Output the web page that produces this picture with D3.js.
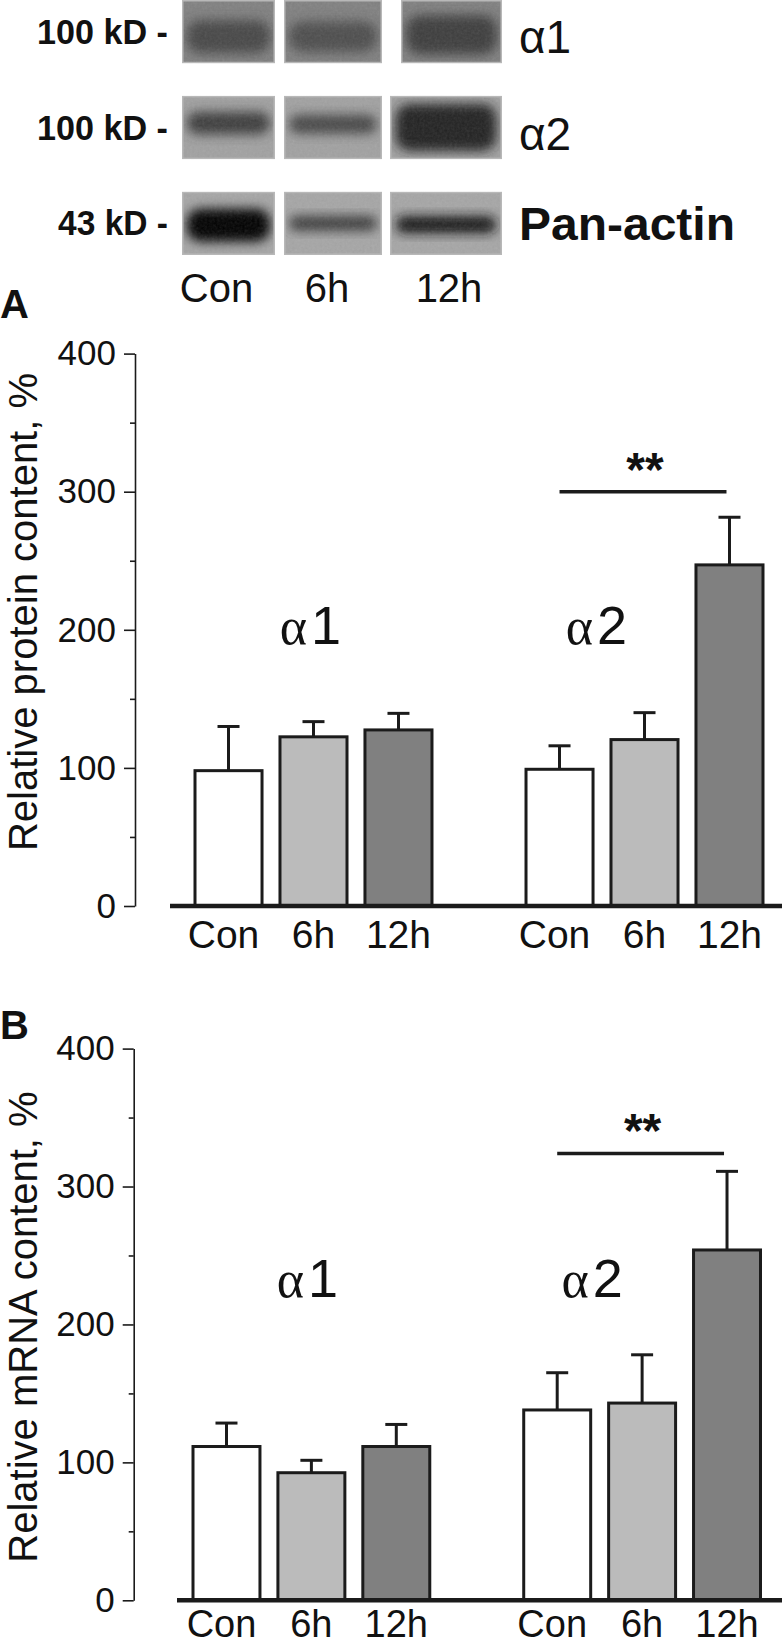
<!DOCTYPE html>
<html>
<head>
<meta charset="utf-8">
<script src="https://cdn.jsdelivr.net/npm/d3@7"></script>
<style>
  html, body { margin: 0; padding: 0; background: #fff; }
  svg { display: block; }
  text { font-family: "Liberation Sans", Arial, Helvetica, sans-serif; fill: #111; }
</style>
</head>
<body>
<svg id="fig" width="782" height="1645"></svg>
<script>
// ---------------- DATA ----------------
const conditions = ["Con", "6h", "12h"];
const isoforms = ["α1", "α2"];
const yTicks = [0, 100, 200, 300, 400];
const yMinorTicks = [50, 150, 250, 350];

// Panel A: relative protein content, %
const proteinAlpha1 = [98, 122.5, 127.5];
const proteinAlpha1Err = [32, 11, 12];
const proteinAlpha2 = [99, 120.5, 247];
const proteinAlpha2Err = [17, 19.5, 34.5];
const proteinSigLevel = 300;

// Panel B: relative mRNA content, %
const mrnaAlpha1 = [111.5, 92.5, 111.5];
const mrnaAlpha1Err = [17, 9, 16];
const mrnaAlpha2 = [138, 143, 254];
const mrnaAlpha2Err = [27, 35, 57];
const mrnaSigLevel = 324;

// Western blot (band darkness 0..1, membrane darkness 0..1)
const blotRows = ["α1", "α2", "Pan-actin"];
const blotMarkers = ["100 kD -", "100 kD -", "43 kD -"];
const membraneDarkness = [0.50, 0.37, 0.35];
const bandDarkness = [[0.72, 0.70, 0.76], [0.76, 0.72, 0.86], [0.98, 0.76, 0.93]];
const bandThickness = [[0.52, 0.48, 0.62], [0.36, 0.30, 0.74], [0.52, 0.24, 0.27]];
const bandCenter = [[0.58, 0.58, 0.55], [0.43, 0.45, 0.5], [0.53, 0.5, 0.52]];

// ---------------- DRAW ----------------
const svg = d3.select("#fig");
const ink = "#1b1b1b";
const fills = ["#ffffff", "#bbbbbb", "#808080"];
const sans = '"Liberation Sans", Arial, sans-serif';
const serif = '"Liberation Serif", "Times New Roman", serif';

const defs = svg.append("defs");
defs.append("filter").attr("id", "blur").attr("x", "-50%").attr("y", "-50%").attr("width", "200%").attr("height", "200%")
  .append("feGaussianBlur").attr("stdDeviation", 5.5);
const nf = defs.append("filter").attr("id", "noise").attr("x", 0).attr("y", 0).attr("width", "100%").attr("height", "100%");
nf.append("feTurbulence").attr("type", "fractalNoise").attr("baseFrequency", 0.4).attr("numOctaves", 2).attr("seed", 7);
nf.append("feColorMatrix").attr("type", "saturate").attr("values", 0);

// ---- Blot ----
// lane geometry (layout): left edge and width per lane
const laneLeft = d3.scaleOrdinal().domain(conditions).range([182, 284, 390]);
const laneWidth = d3.scaleOrdinal().domain(conditions).range([93, 98, 112]);
const rowY = d3.scaleBand().domain(blotRows).range([0, 255]).paddingInner(0.34);
const gray = d => d3.interpolateRgb("#ffffff", "#000000")(d);

blotRows.forEach((row, ri) => {
  const y0 = rowY(row), h = rowY.bandwidth();
  conditions.forEach((c, ci) => {
    const x0 = laneLeft(c) + (ri === 0 && ci === 2 ? 11 : 0);
    const w = laneWidth(c) - (ri === 0 && ci === 2 ? 11 : 0);
    const id = `clip-${ri}-${ci}`;
    defs.append("clipPath").attr("id", id).append("rect").attr("x", x0).attr("y", y0).attr("width", w).attr("height", h);
    const lane = svg.append("g").attr("clip-path", `url(#${id})`);
    lane.append("rect").attr("x", x0).attr("y", y0).attr("width", w).attr("height", h)
      .attr("fill", gray(membraneDarkness[ri]));
    const bh = bandThickness[ri][ci] * h;
    const cy = y0 + bandCenter[ri][ci] * h;
    lane.append("rect")
      .attr("x", x0 + w * 0.05).attr("y", cy - bh / 2)
      .attr("width", w * 0.9).attr("height", bh)
      .attr("rx", Math.min(bh / 2, 14))
      .attr("fill", gray(bandDarkness[ri][ci]))
      .attr("filter", "url(#blur)");
    lane.append("rect").attr("x", x0).attr("y", y0).attr("width", w).attr("height", h)
      .attr("filter", "url(#noise)").attr("opacity", 0.14);
    lane.append("rect").attr("x", x0 + 0.75).attr("y", y0 + 0.75).attr("width", w - 1.5).attr("height", h - 1.5)
      .attr("fill", "none").attr("stroke", "#b8b8b8").attr("stroke-width", 1.5);
  });
  const cyRow = y0 + h / 2;
  svg.append("text").attr("x", 168).attr("y", cyRow + 12)
    .attr("text-anchor", "end").attr("font-weight", "bold").attr("font-size", 35)
    .attr("textLength", ri === 2 ? 110 : 131).attr("lengthAdjust", "spacingAndGlyphs")
    .text(blotMarkers[ri]);
});
// right-side blot labels
svg.append("text").attr("x", 519).attr("y", rowY("α1") + 53).attr("font-family", serif).attr("font-size", 46).text("α1");
svg.append("text").attr("x", 519).attr("y", rowY("α2") + 54).attr("font-family", serif).attr("font-size", 46).text("α2");
svg.append("text").attr("x", 519).attr("y", rowY("Pan-actin") + rowY.bandwidth() / 2 + 17)
  .attr("font-weight", "bold").attr("font-size", 46)
  .attr("textLength", 216).attr("lengthAdjust", "spacingAndGlyphs").text("Pan-actin");
// lane labels
svg.selectAll(".laneLbl").data(conditions).enter().append("text")
  .attr("x", (d, i) => laneLeft(d) + laneWidth(d) / 2 - [12, 6, -3][i])
  .attr("y", 302).attr("text-anchor", "middle").attr("font-size", 40).text(d => d);

// ---- Bar panels ----
function panel(cfg) {
  const g = svg.append("g");
  const y = d3.scaleLinear().domain([0, 400]).range([cfg.y0, cfg.y400]);
  const gx = d3.scaleBand().domain(isoforms).range(cfg.xRange).paddingInner(0.275);
  const bx = d3.scaleBand().domain(conditions).range([0, gx.bandwidth()]).paddingInner(0.176);

  // y axis
  const ax = g.append("g").attr("transform", `translate(${cfg.axisX},0)`)
    .call(d3.axisLeft(y).tickValues(yTicks).tickSize(11).tickSizeOuter(0).tickPadding(8));
  ax.select(".domain").attr("stroke", ink).attr("stroke-width", 1.6);
  ax.selectAll(".tick line").attr("stroke", ink).attr("stroke-width", 1.6);
  ax.selectAll(".tick text").attr("font-size", 35).attr("font-family", sans).attr("fill", "#111");
  const mn = g.append("g").attr("transform", `translate(${cfg.axisX},0)`)
    .call(d3.axisLeft(y).tickValues(yMinorTicks).tickSize(5).tickFormat(""));
  mn.select(".domain").remove();
  mn.selectAll(".tick line").attr("stroke", ink).attr("stroke-width", 1.6);

  // y label
  g.append("text")
    .attr("transform", `translate(${cfg.yLabelX},${cfg.yLabelY}) rotate(-90)`)
    .attr("text-anchor", "middle").attr("font-size", 40).text(cfg.yLabel);

  // panel letter
  g.append("text").attr("x", 0).attr("y", cfg.letterY).attr("font-weight", "bold").attr("font-size", 40).text(cfg.letter);

  // bars
  cfg.series.forEach((s, gi) => {
    const iso = isoforms[gi];
    const gg = g.append("g").attr("transform", `translate(${gx(iso)},0)`);
    conditions.forEach((c, ci) => {
      const v = s.values[ci], e = s.errors[ci];
      const cx = bx(c) + bx.bandwidth() / 2;
      gg.append("line").attr("x1", cx).attr("x2", cx).attr("y1", y(v)).attr("y2", y(v + e))
        .attr("stroke", ink).attr("stroke-width", 3);
      gg.append("line").attr("x1", cx - 11).attr("x2", cx + 11).attr("y1", y(v + e)).attr("y2", y(v + e))
        .attr("stroke", ink).attr("stroke-width", 3);
      gg.append("rect").attr("x", bx(c) + 1.5).attr("y", y(v))
        .attr("width", bx.bandwidth() - 3).attr("height", y(0) - y(v))
        .attr("fill", fills[ci]).attr("stroke", ink).attr("stroke-width", 3);
      gg.append("text").attr("x", cx - [5, 0, 0][ci]).attr("y", cfg.y0 + cfg.labelDy)
        .attr("text-anchor", "middle").attr("font-size", cfg.labelSize).text(c);
    });
    const lbl = gg.append("text").attr("x", s.labelX).attr("y", y(s.labelLevel)).attr("text-anchor", "middle");
    lbl.append("tspan").attr("font-family", serif).attr("font-size", 52).text("α");
    lbl.append("tspan").attr("font-family", sans).attr("font-size", 54).attr("dx", 4).text(iso.slice(1));
  });

  // baseline
  g.append("line").attr("x1", cfg.baseX0).attr("x2", 782).attr("y1", y(0)).attr("y2", y(0))
    .attr("stroke", ink).attr("stroke-width", 4.5);

  // significance
  const gx2 = gx("α2");
  const xa = gx2 + bx("Con") + bx.bandwidth() / 2, xb = gx2 + bx("12h") + bx.bandwidth() / 2 - 3;
  g.append("line").attr("x1", xa).attr("x2", xb).attr("y1", y(cfg.sig)).attr("y2", y(cfg.sig))
    .attr("stroke", ink).attr("stroke-width", 3.5);
  g.append("text").attr("x", (xa + xb) / 2 + 2).attr("y", y(cfg.sig) - 6)
    .attr("text-anchor", "middle").attr("font-weight", "bold").attr("font-size", 48).text("**");
}

panel({
  y0: 906, y400: 353.6, axisX: 135, xRange: [193.5, 764.5], baseX0: 170,
  yLabel: "Relative protein content, %", yLabelX: 37, yLabelY: 612,
  letter: "A", letterY: 318, sig: proteinSigLevel, labelDy: 42, labelSize: 39,
  series: [
    { values: proteinAlpha1, errors: proteinAlpha1Err, labelX: 117, labelLevel: 190 },
    { values: proteinAlpha2, errors: proteinAlpha2Err, labelX: 72, labelLevel: 190 }
  ]
});

panel({
  y0: 1600.3, y400: 1048.6, axisX: 133.7, xRange: [191.5, 762], baseX0: 177,
  yLabel: "Relative mRNA content, %", yLabelX: 37, yLabelY: 1327,
  letter: "B", letterY: 1039, sig: mrnaSigLevel, labelDy: 36.5, labelSize: 38,
  series: [
    { values: mrnaAlpha1, errors: mrnaAlpha1Err, labelX: 116, labelLevel: 220 },
    { values: mrnaAlpha2, errors: mrnaAlpha2Err, labelX: 70, labelLevel: 220 }
  ]
});
</script>
</body>
</html>
